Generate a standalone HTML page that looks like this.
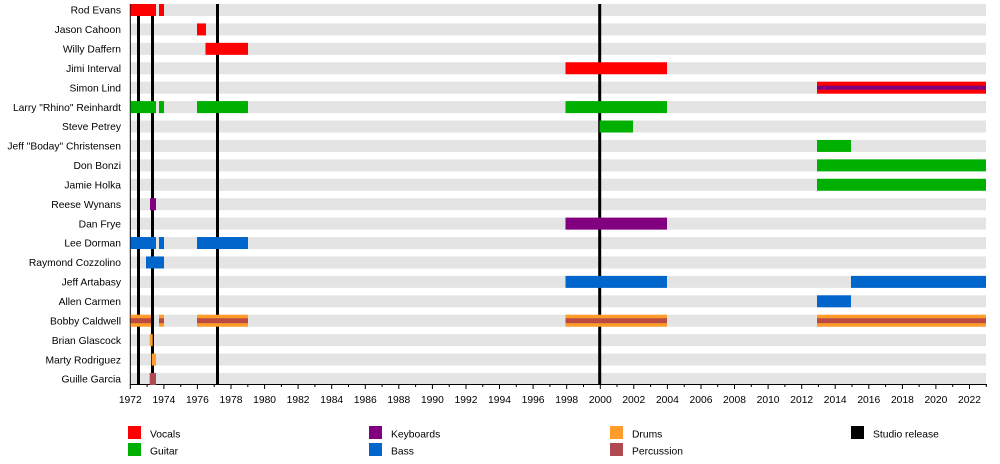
<!DOCTYPE html>
<html>
<head>
<meta charset="utf-8">
<style>
html,body{margin:0;padding:0;background:#fff;}
svg{display:block;}
text{font-family:"Liberation Sans",Arial,sans-serif;font-size:10.3px;fill:#000;}
</style>
</head>
<body>
<svg width="1000" height="464" viewBox="0 0 1000 464" xmlns="http://www.w3.org/2000/svg">
<!-- gray bands -->
<g fill="#e4e4e4">
<rect x="130" y="4" width="856" height="12"/>
<rect x="130" y="23.42" width="856" height="12"/>
<rect x="130" y="42.84" width="856" height="12"/>
<rect x="130" y="62.26" width="856" height="12"/>
<rect x="130" y="81.68" width="856" height="12"/>
<rect x="130" y="101.1" width="856" height="12"/>
<rect x="130" y="120.52" width="856" height="12"/>
<rect x="130" y="139.94" width="856" height="12"/>
<rect x="130" y="159.36" width="856" height="12"/>
<rect x="130" y="178.78" width="856" height="12"/>
<rect x="130" y="198.2" width="856" height="12"/>
<rect x="130" y="217.62" width="856" height="12"/>
<rect x="130" y="237.04" width="856" height="12"/>
<rect x="130" y="256.46" width="856" height="12"/>
<rect x="130" y="275.88" width="856" height="12"/>
<rect x="130" y="295.3" width="856" height="12"/>
<rect x="130" y="314.72" width="856" height="12"/>
<rect x="130" y="334.14" width="856" height="12"/>
<rect x="130" y="353.56" width="856" height="12"/>
<rect x="130" y="372.98" width="856" height="12"/>
</g>
<!-- studio release lines -->
<g fill="#000">
<rect x="137" y="4" width="3" height="380"/>
<rect x="151" y="4" width="3" height="380"/>
<rect x="216" y="4" width="3" height="380"/>
<rect x="598.2" y="4" width="3" height="380"/>
</g>
<!-- axes -->
<rect x="129.8" y="4" width="1" height="381" fill="#000"/>
<rect x="130" y="384" width="857" height="1" fill="#000"/>
<g stroke="#000" stroke-width="1">
<path d="M130.3 384v5M147.1 384v3M163.9 384v5M180.7 384v3M197.4 384v5M214.2 384v3M231 384v5M247.8 384v3M264.6 384v5M281.4 384v3M298.1 384v5M314.9 384v3M331.7 384v5M348.5 384v3M365.3 384v5M382.1 384v3M398.8 384v5M415.6 384v3M432.4 384v5M449.2 384v3M466 384v5M482.8 384v3M499.5 384v5M516.3 384v3M533.1 384v5M549.9 384v3M566.7 384v5M583.5 384v3M600.3 384v5M617 384v3M633.8 384v5M650.6 384v3M667.4 384v5M684.2 384v3M701 384v5M717.7 384v3M734.5 384v5M751.3 384v3M768.1 384v5M784.9 384v3M801.7 384v5M818.4 384v3M835.2 384v5M852 384v3M868.8 384v5M885.6 384v3M902.4 384v5M919.1 384v3M935.9 384v5M952.7 384v3M969.5 384v5M986.3 384v3"/>
</g>
<!-- bars -->
<g fill="#ff0000">
<rect x="130.5" y="4" width="25.5" height="12"/>
<rect x="159" y="4" width="5" height="12"/>
<rect x="197" y="23.42" width="9" height="12"/>
<rect x="205.5" y="42.84" width="42.5" height="12"/>
<rect x="565.5" y="62.26" width="101.5" height="12"/>
<rect x="817" y="81.68" width="169" height="12"/>
</g>
<rect x="817" y="85.68" width="169" height="4" fill="#800080"/>
<g fill="#00b000">
<rect x="130.5" y="101.1" width="25.5" height="12"/>
<rect x="159" y="101.1" width="5" height="12"/>
<rect x="197" y="101.1" width="51" height="12"/>
<rect x="565.5" y="101.1" width="101.5" height="12"/>
<rect x="599.5" y="120.52" width="33.5" height="12"/>
<rect x="817" y="139.94" width="34" height="12"/>
<rect x="817" y="159.36" width="169" height="12"/>
<rect x="817" y="178.78" width="169" height="12"/>
</g>
<g fill="#800080">
<rect x="150" y="198.2" width="6" height="12"/>
<rect x="565.5" y="217.62" width="101.5" height="12"/>
</g>
<g fill="#0066cc">
<rect x="130.5" y="237.04" width="25.5" height="12"/>
<rect x="159" y="237.04" width="5" height="12"/>
<rect x="197" y="237.04" width="51" height="12"/>
<rect x="146" y="256.46" width="18" height="12"/>
<rect x="565.5" y="275.88" width="101.5" height="12"/>
<rect x="851" y="275.88" width="135" height="12"/>
<rect x="817" y="295.3" width="34" height="12"/>
</g>
<g fill="#ff9c2a">
<rect x="130.5" y="314.72" width="20.5" height="12"/>
<rect x="159" y="314.72" width="5" height="12"/>
<rect x="197" y="314.72" width="51" height="12"/>
<rect x="565.5" y="314.72" width="101.5" height="12"/>
<rect x="817" y="314.72" width="169" height="12"/>
<rect x="149.7" y="334.14" width="3" height="12"/>
<rect x="151.7" y="353.56" width="4.3" height="12"/>
</g>
<g fill="#bb4a42">
<rect x="130.5" y="318.22" width="20.5" height="5"/>
<rect x="159" y="318.22" width="5" height="5"/>
<rect x="197" y="318.22" width="51" height="5"/>
<rect x="565.5" y="318.22" width="101.5" height="5"/>
<rect x="817" y="318.22" width="169" height="5"/>
</g>
<rect x="149.7" y="372.98" width="6.3" height="12" fill="#b04a52"/>
<!-- row labels -->
<g text-anchor="end">
<text x="121" y="13.7">Rod Evans</text>
<text x="121" y="33.1">Jason Cahoon</text>
<text x="121" y="52.5">Willy Daffern</text>
<text x="121" y="72">Jimi Interval</text>
<text x="121" y="91.4">Simon Lind</text>
<text x="121" y="110.8">Larry "Rhino" Reinhardt</text>
<text x="121" y="130.2">Steve Petrey</text>
<text x="121" y="149.6">Jeff "Boday" Christensen</text>
<text x="121" y="169.1">Don Bonzi</text>
<text x="121" y="188.5">Jamie Holka</text>
<text x="121" y="207.9">Reese Wynans</text>
<text x="121" y="227.3">Dan Frye</text>
<text x="121" y="246.7">Lee Dorman</text>
<text x="121" y="266.2">Raymond Cozzolino</text>
<text x="121" y="285.6">Jeff Artabasy</text>
<text x="121" y="305">Allen Carmen</text>
<text x="121" y="324.4">Bobby Caldwell</text>
<text x="121" y="343.8">Brian Glascock</text>
<text x="121" y="363.3">Marty Rodriguez</text>
<text x="121" y="382.7">Guille Garcia</text>
</g>
<!-- year labels -->
<g text-anchor="middle">
<text x="130.3" y="403">1972</text>
<text x="163.9" y="403">1974</text>
<text x="197.4" y="403">1976</text>
<text x="231" y="403">1978</text>
<text x="264.6" y="403">1980</text>
<text x="298.1" y="403">1982</text>
<text x="331.7" y="403">1984</text>
<text x="365.3" y="403">1986</text>
<text x="398.8" y="403">1988</text>
<text x="432.4" y="403">1990</text>
<text x="466" y="403">1992</text>
<text x="499.5" y="403">1994</text>
<text x="533.1" y="403">1996</text>
<text x="566.7" y="403">1998</text>
<text x="600.3" y="403">2000</text>
<text x="633.8" y="403">2002</text>
<text x="667.4" y="403">2004</text>
<text x="701" y="403">2006</text>
<text x="734.5" y="403">2008</text>
<text x="768.1" y="403">2010</text>
<text x="801.7" y="403">2012</text>
<text x="835.2" y="403">2014</text>
<text x="868.8" y="403">2016</text>
<text x="902.4" y="403">2018</text>
<text x="935.9" y="403">2020</text>
<text x="969.5" y="403">2022</text>
</g>
<!-- legend -->
<rect x="128" y="426" width="13" height="13" fill="#ff0000"/>
<text x="150" y="437.7">Vocals</text>
<rect x="128" y="443" width="13" height="13" fill="#00b000"/>
<text x="150" y="454.4">Guitar</text>
<rect x="369" y="426" width="13" height="13" fill="#800080"/>
<text x="391" y="437.7">Keyboards</text>
<rect x="369" y="443" width="13" height="13" fill="#0066cc"/>
<text x="391" y="454.4">Bass</text>
<rect x="610" y="426" width="13" height="13" fill="#ff9c2a"/>
<text x="632" y="437.7">Drums</text>
<rect x="610" y="443" width="13" height="13" fill="#b04a52"/>
<text x="632" y="454.4">Percussion</text>
<rect x="851" y="426" width="13" height="13" fill="#000"/>
<text x="873" y="437.7">Studio release</text>
</svg>
</body>
</html>
